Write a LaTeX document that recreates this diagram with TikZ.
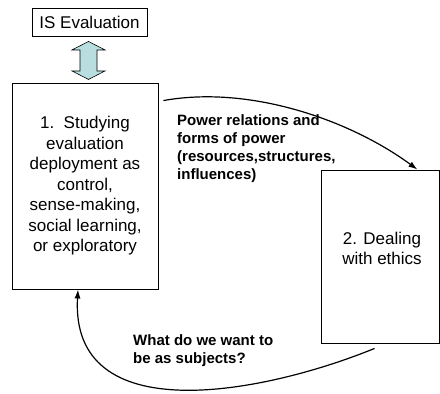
\documentclass[tikz,border=0pt]{standalone}
\usepackage{fontspec}
\setmainfont{Liberation Sans}
\usetikzlibrary{arrows.meta,positioning}

\definecolor{linkblue}{RGB}{185,222,224}

\tikzset{
  box/.style={draw, line width=0.9pt, rectangle, inner sep=0pt},
  boxtext/.style={font=\fontsize{17}{20.5}\selectfont, align=center},
  note/.style={font=\fontsize{15}{18}\selectfont\bfseries, align=left, anchor=west, inner sep=0pt},
  flow/.style={line width=1.2pt, -{Latex[length=9pt,width=6pt]}}
}

\begin{document}
\begin{tikzpicture}[x=1pt,y=-1pt]
\useasboundingbox (0,0) rectangle (440,394);

\node[box, boxtext, minimum width=115pt, minimum height=28pt] (isev) at (89.5,22) {IS Evaluation};
\node[box, boxtext, minimum width=146pt, minimum height=206pt] (study) at (85,186)
  {1.\ \ Studying\\evaluation\\deployment as\\control,\\sense-making,\\social learning,\\or exploratory};
\node[box, minimum width=118pt, minimum height=173pt] (ethics) at (380,256.5) {};
\node[boxtext] (ethicstxt) at ([shift={(2,-8)}]ethics.center) {2. Dealing\\with ethics};

% link between IS evaluation and box 1
\draw[fill=linkblue, line width=0.6pt]
  ([shift={(-1,5)}]isev.south) -- ++(16.5,8.5) -- ++(-8,0) -- ++(0,21) -- ++(8,0)
  -- ++(-16.5,8.5) -- ++(-16.5,-8.5) -- ++(8,0) -- ++(0,-21) -- ++(-8,0) -- cycle;

\node[note] (power) at (177,148.5) {Power relations and\\forms of power\\(resources,structures,\\influences)};
\node[note] (subjects) at (133,351) {What do we want to\\be as subjects?};

\draw[flow] ([shift={(5,18)}]study.north east) .. controls (250,85) and (350,120) .. ([xshift=-22]ethics.north east);
\draw[flow] ([shift={(54,5)}]ethics.south west) .. controls (260,395) and (70,430) .. ([xshift=-7]study.south);
\end{tikzpicture}
\end{document}
